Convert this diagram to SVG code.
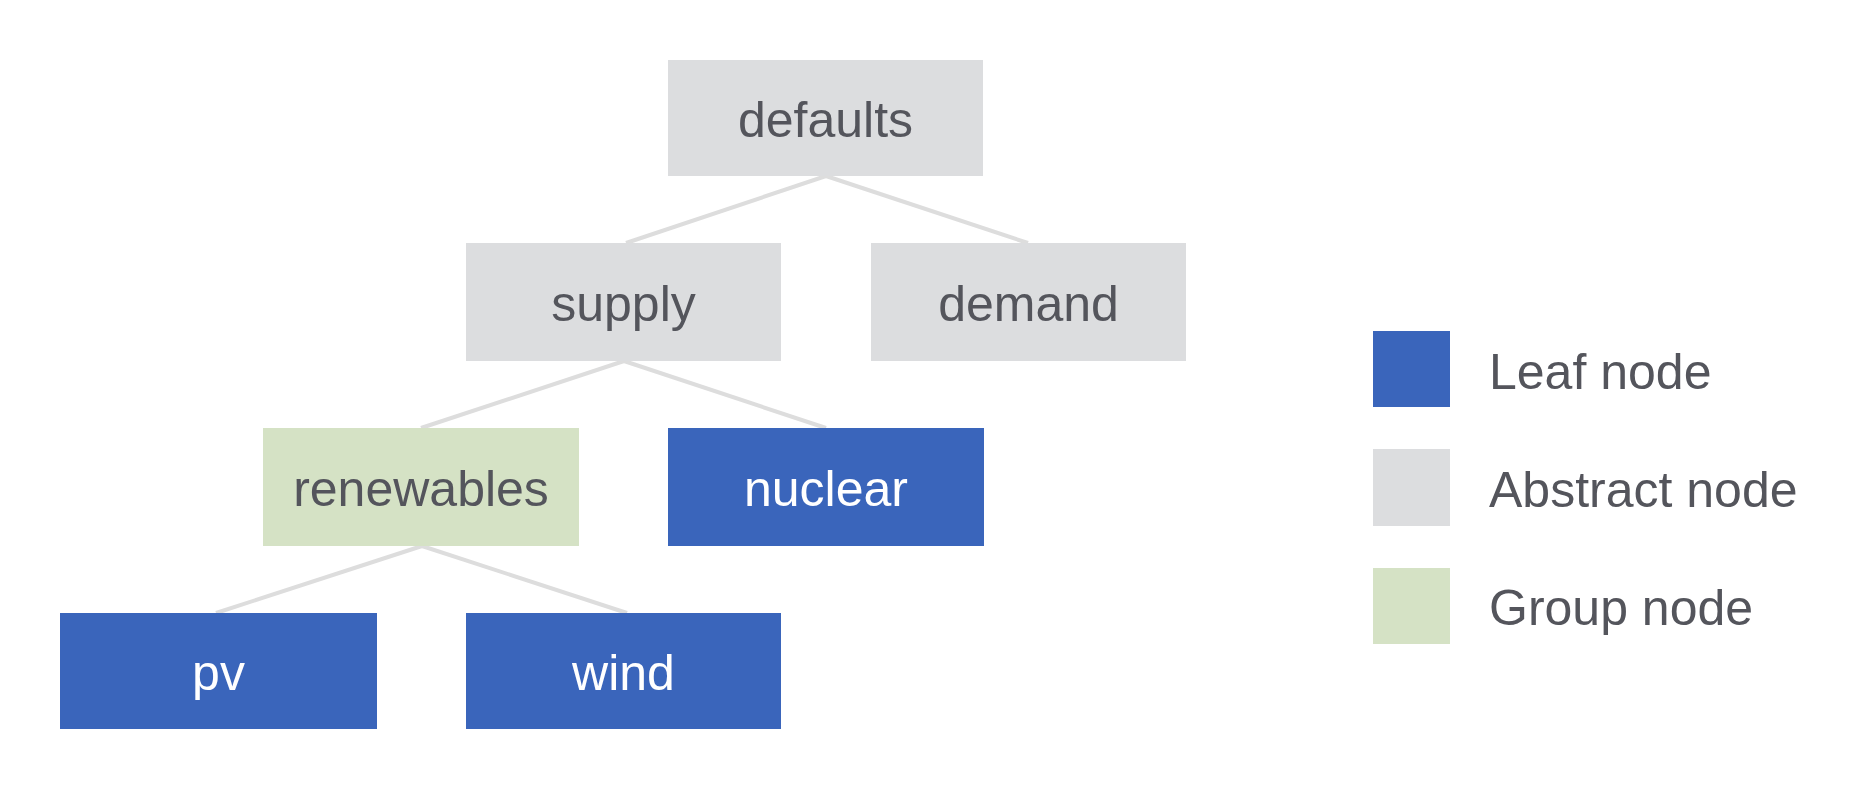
<svg xmlns="http://www.w3.org/2000/svg" width="1875" height="791" viewBox="0 0 1875 791">
<style>
text{font-family:"Liberation Sans",Arial,Helvetica,sans-serif;font-size:50px;}
.abs rect{fill:#dcdddf;}
.leaf rect{fill:#3a65bb;}
.grp rect{fill:#d5e2c5;}
.node text{text-anchor:middle;}
.abs text,.grp text,.legend text{fill:#54555c;}
.leaf text{fill:#ffffff;}
.edges line{stroke:#dddddd;stroke-width:4;}
</style>
<rect width="1875" height="791" fill="#ffffff"/>
<g id="connectors" class="edges">
<line x1="826" y1="176" x2="626" y2="243"/>
<line x1="826" y1="176" x2="1028" y2="243"/>
<line x1="624" y1="361" x2="421" y2="428"/>
<line x1="624" y1="361" x2="826" y2="428"/>
<line x1="422" y1="546" x2="216" y2="613"/>
<line x1="422" y1="546" x2="627" y2="613"/>
</g>
<g id="defaults" class="node abs"><rect x="668" y="60" width="315" height="116"/><text x="825.5" y="137">defaults</text></g>
<g id="supply" class="node abs"><rect x="466" y="243" width="315" height="118"/><text x="623.5" y="321">supply</text></g>
<g id="demand" class="node abs"><rect x="871" y="243" width="315" height="118"/><text x="1028.5" y="321">demand</text></g>
<g id="renewables" class="node grp"><rect x="263" y="428" width="316" height="118"/><text x="421" y="506">renewables</text></g>
<g id="nuclear" class="node leaf"><rect x="668" y="428" width="316" height="118"/><text x="826" y="506">nuclear</text></g>
<g id="pv" class="node leaf"><rect x="60" y="613" width="317" height="116"/><text x="218.5" y="690">pv</text></g>
<g id="wind" class="node leaf"><rect x="466" y="613" width="315" height="116"/><text x="623.5" y="690">wind</text></g>
<g id="legend" class="legend">
<g id="legend-leaf" class="leaf"><rect x="1373" y="331" width="77" height="76"/><text x="1489" y="389" style="fill:#54555c">Leaf node</text></g>
<g id="legend-abstract" class="abs"><rect x="1373" y="449" width="77" height="77"/><text x="1489" y="507">Abstract node</text></g>
<g id="legend-group" class="grp"><rect x="1373" y="568" width="77" height="76"/><text x="1489" y="625">Group node</text></g>
</g>
</svg>
